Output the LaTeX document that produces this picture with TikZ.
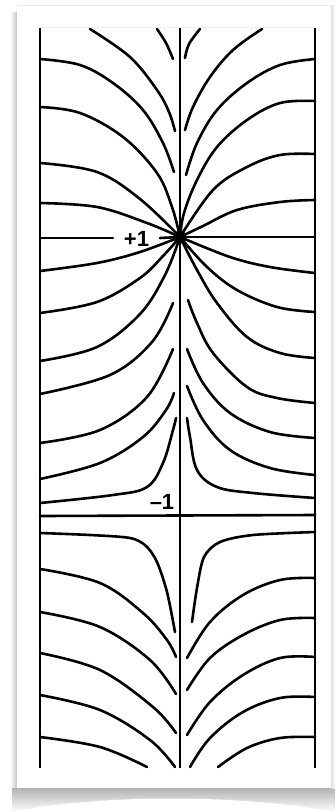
\documentclass[tikz,border=0pt]{standalone}
\usepackage{fontspec}
\setmainfont{Liberation Sans}
\begin{document}
\begin{tikzpicture}[x=1pt,y=-1pt,
  fl/.style={line width=2.6pt,line cap=round,line join=round},
  wall/.style={line width=2.8pt},
  axis/.style={line width=2.2pt},
  lab/.style={font=\fontsize{22}{22}\selectfont\bfseries,inner sep=0pt}]
\useasboundingbox (0,0) rectangle (335,812);
\fill[white] (0,0) rectangle (335,812);
% shadows
\shade[left color=white,right color=gray!45] (10,12) rectangle (17,788);
\shade[top color=gray!60,bottom color=white] (12,788) rectangle (335,812);
\fill[white] (12,812) .. controls (100,794) and (240,794) .. (335,812) -- (335,813) -- (12,813) -- cycle;
\shade[left color=gray!25,right color=white] (331,5) rectangle (335,788);
% paper
\fill[white] (17,5) rectangle (331,788);
\draw[gray!15,line width=0.6pt] (17,5) -- (331,5);
\draw[gray!12,line width=0.5pt] (40,27) -- (315,27);
% walls and axes
\draw[wall] (40,28) -- (40,768);
\draw[wall] (315,28) -- (315,768);
\draw[axis] (180,28) -- (180,768);
\draw[fl] (40,516) -- (315,515);
% charge and labels
\node[circle,fill=black,inner sep=0pt,minimum size=13pt] (C) at (180,237) {};
\node[lab] (p1) at (136.5,239) {+1};
\node[lab] (m1) at (162,502) {–1};
\draw[fl] (40,238) -- (113,238);
\draw[fl] (160,238) -- (C.center);
\draw[fl] (C.center) -- (315,237);
% upper left
\draw[fl] plot[smooth,tension=0.6] coordinates {(157,29) (166,43) (173,59)};
\draw[fl] plot[smooth,tension=0.6] coordinates {(90,29) (130,57) (157,90) (169,112) (175,131)};
\draw[fl] plot[smooth,tension=0.6] coordinates {(40,59) (80,65) (113,83) (143,110) (163,143) (174,172)};
\draw[fl] plot[smooth,tension=0.6] coordinates {(40,107) (80,113) (123,137) (157,173) (172,207) (180,237)};
\draw[fl] plot[smooth,tension=0.6] coordinates {(40,163) (97,172) (140,199) (180,237)};
\draw[fl] plot[smooth,tension=0.6] coordinates {(40,203) (97,207) (147,223) (180,237)};
% upper right
\draw[fl] plot[smooth,tension=0.6] coordinates {(200,29) (189,44) (185,58)};
\draw[fl] plot[smooth,tension=0.6] coordinates {(262,29) (233,50) (210,77) (193,107) (185,130)};
\draw[fl] plot[smooth,tension=0.6] coordinates {(315,59) (280,65) (247,83) (217,110) (197,143) (186,175)};
\draw[fl] plot[smooth,tension=0.6] coordinates {(315,101) (280,103) (247,120) (217,147) (197,180) (184,213) (180,237)};
\draw[fl] plot[smooth,tension=0.6] coordinates {(315,154) (280,155) (247,167) (213,190) (180,237)};
\draw[fl] plot[smooth,tension=0.6] coordinates {(315,200) (280,202) (237,210) (203,226) (180,237)};
% lower left
\draw[fl] plot[smooth,tension=0.6] coordinates {(40,271) (97,263) (140,252) (180,237)};
\draw[fl] plot[smooth,tension=0.6] coordinates {(40,313) (97,302) (140,278) (163,256) (180,237)};
\draw[fl] plot[smooth,tension=0.6] coordinates {(40,361) (97,347) (140,314) (165,275) (180,237)};
\draw[fl] plot[smooth,tension=0.6] coordinates {(40,394) (110,375) (152,342) (173,303)};
\draw[fl] plot[smooth,tension=0.6] coordinates {(40,443) (100,430) (147,397) (173,349)};
\draw[fl] plot[smooth,tension=0.6] coordinates {(40,479) (100,463) (143,437) (166,410) (174,393)};
\draw[fl] plot[smooth,tension=0.6] coordinates {(40,503) (113,495) (147,487) (163,463) (173,430) (176,418)};
% lower right
\draw[fl] plot[smooth,tension=0.6] coordinates {(315,273) (270,267) (230,257) (180,237)};
\draw[fl] plot[smooth,tension=0.6] coordinates {(315,312) (277,307) (237,290) (207,267) (180,237)};
\draw[fl] plot[smooth,tension=0.6] coordinates {(315,358) (280,353) (247,337) (217,303) (197,270) (180,237)};
\draw[fl] plot[smooth,tension=0.6] coordinates {(315,403) (277,398) (247,387) (213,353) (197,323) (188,300)};
\draw[fl] plot[smooth,tension=0.6] coordinates {(315,438) (270,432) (230,413) (203,383) (187,349)};
\draw[fl] plot[smooth,tension=0.6] coordinates {(315,475) (270,468) (230,450) (203,420) (187,386)};
\draw[fl] plot[smooth,tension=0.6] coordinates {(315,498) (253,493) (217,487) (197,470) (190,437) (187,418)};
% bottom left
\draw[fl] plot[smooth,tension=0.5] coordinates {(40,533) (90,535) (130,538) (146,546) (157,562) (167,592) (175,632)};
\draw[fl] plot[smooth,tension=0.6] coordinates {(40,569) (100,583) (143,613) (167,640) (176,657)};
\draw[fl] plot[smooth,tension=0.6] coordinates {(40,612) (100,627) (150,660) (176,694)};
\draw[fl] plot[smooth,tension=0.6] coordinates {(40,653) (100,670) (153,707) (176,733)};
\draw[fl] plot[smooth,tension=0.6] coordinates {(40,695) (100,710) (150,740) (175,767)};
\draw[fl] plot[smooth,tension=0.6] coordinates {(40,737) (100,747) (147,767)};
% bottom right
\draw[fl] plot[smooth,tension=0.5] coordinates {(315,532) (253,535) (220,542) (204,557) (197,588) (192,622)};
\draw[fl] plot[smooth,tension=0.6] coordinates {(315,578) (280,580) (243,595) (210,622) (187,658)};
\draw[fl] plot[smooth,tension=0.6] coordinates {(315,618) (280,620) (243,635) (210,658) (187,690)};
\draw[fl] plot[smooth,tension=0.6] coordinates {(315,657) (280,658) (243,675) (210,702) (187,735)};
\draw[fl] plot[smooth,tension=0.6] coordinates {(315,697) (280,698) (243,712) (210,738) (190,767)};
\draw[fl] plot[smooth,tension=0.6] coordinates {(315,737) (280,738) (247,748) (218,767)};
\end{tikzpicture}
\end{document}
